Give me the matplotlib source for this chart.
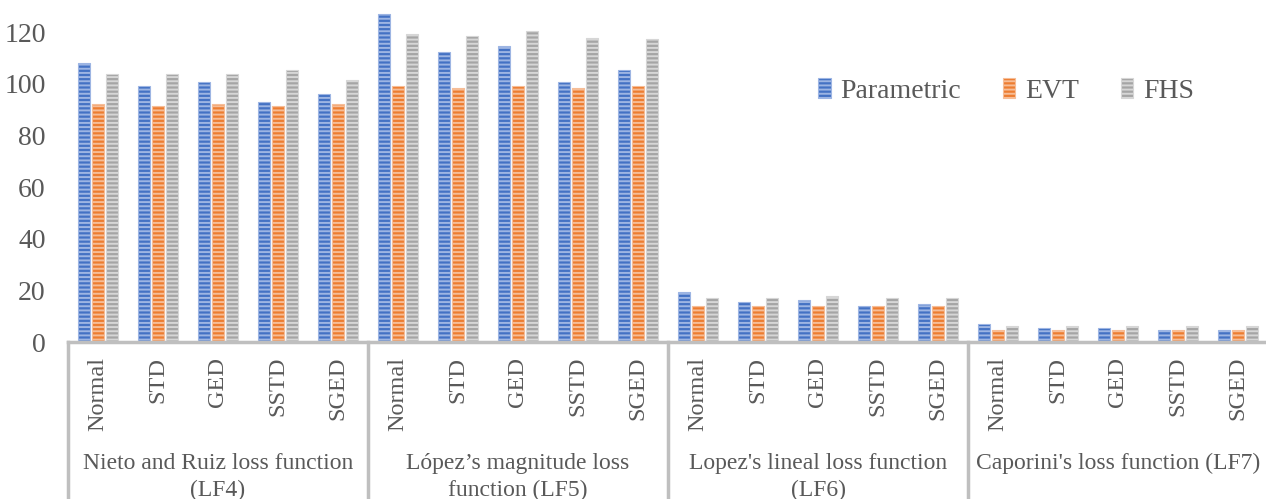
import numpy as np
import matplotlib.pyplot as plt
from matplotlib.patches import Patch

plt.rcParams['font.family'] = ['Liberation Serif', 'DejaVu Serif']
plt.rcParams['hatch.linewidth'] = 1.4

dists = ['Normal', 'STD', 'GED', 'SSTD', 'SGED']
groups = ['Nieto and Ruiz loss function\n(LF4)',
          'López’s magnitude loss\nfunction (LF5)',
          "Lopez's lineal loss function\n(LF6)",
          "Caporini's loss function (LF7)"]
series = ['Parametric', 'EVT', 'FHS']

parametric = [108.0, 99.3, 100.9, 93.1, 96.1,
              127.1, 112.5, 114.8, 100.9, 105.4,
              19.5, 15.6, 16.4, 14.1, 14.8,
              7.1, 5.5, 5.5, 4.8, 4.8]
evt = [92.2, 91.5, 92.2, 91.5, 92.2,
       99.3, 98.6, 99.3, 98.6, 99.3,
       14.1, 14.1, 14.1, 14.1, 14.1,
       4.8, 4.8, 4.8, 4.8, 4.8]
fhs = [103.9, 103.9, 103.9, 105.4, 101.6,
       119.4, 118.7, 120.3, 117.9, 117.2,
       17.2, 17.2, 17.9, 17.2, 17.2,
       6.3, 6.3, 6.3, 6.3, 6.3]

colors = ['#4472C4', '#ED7D31', '#A5A5A5']
light = ['#9DB5E3', '#F6BD97', '#D6D6D6']
text_col = '#595959'

W, H = 1266, 499
fig = plt.figure(figsize=(W / 100, H / 100), dpi=100)
ax = fig.add_axes([68 / W, 1 - 342 / H, 1200 / W, 342 / H])

x = np.arange(len(parametric))
bw = 0.21
step = 0.233
for i, (vals, c, lc) in enumerate(zip([parametric, evt, fhs], colors, light)):
    ax.bar(x + (i - 1) * step, vals, bw, color=c, edgecolor=lc, linewidth=0.8,
           hatch='----', label=series[i])

ax.set_xlim(-0.5, len(x) - 0.5)
ax.set_ylim(0, 132.5)
ax.set_yticks(range(0, 121, 20))
ax.tick_params(axis='y', length=0, pad=16, labelsize=20, labelcolor=text_col)
ax.tick_params(axis='x', length=0, bottom=False, labelbottom=False)
for s in ['top', 'right', 'left']:
    ax.spines[s].set_visible(False)
ax.spines['bottom'].set_color('#BFBFBF')
ax.spines['bottom'].set_linewidth(2.5)

# category labels and group separators below the axis
trans = ax.get_xaxis_transform()
for k in range(len(x)):
    ax.text(k, -0.043, dists[k % 5], rotation=90, ha='center', va='top',
            fontsize=17.5, color=text_col, transform=trans, clip_on=False)
for g in range(len(groups)):
    ax.text(g * 5 + 2, -0.325, groups[g], ha='center', va='top', fontsize=17,
            color=text_col, transform=trans, clip_on=False, linespacing=1.35)
for g in range(len(groups) + 1):
    ax.plot([g * 5 - 0.5, g * 5 - 0.5], [0, -0.5], color='#BFBFBF', lw=2.5,
            transform=trans, clip_on=False)

handles = [Patch(facecolor=c, edgecolor=lc, hatch='----', linewidth=0.8)
           for c, lc in zip(colors, light)]
leg = fig.legend(handles, series, loc='center', bbox_to_anchor=(1006 / W, 1 - 91 / H),
                 ncol=3, frameon=False, fontsize=20, handlelength=0.45, handleheight=0.7,
                 handletextpad=0.35, columnspacing=1.5)
for t in leg.get_texts():
    t.set_color(text_col)

fig.savefig('out.png', dpi=100)
